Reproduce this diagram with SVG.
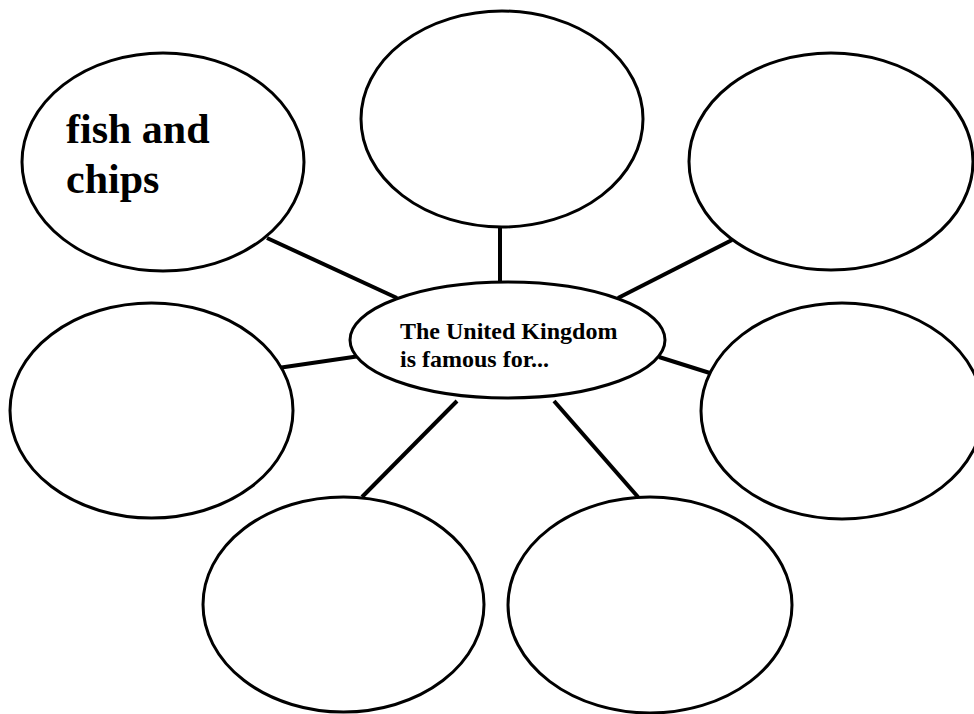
<svg xmlns="http://www.w3.org/2000/svg" width="974" height="714" viewBox="0 0 974 714">
<style>
.bubble{fill:#fff;stroke:#000;stroke-width:3}
.link{stroke:#000;stroke-width:4;stroke-linecap:butt}
.lbl{font-family:"Liberation Serif","Times New Roman",serif;font-weight:bold;fill:#000}
</style>
<rect width="974" height="714" fill="#fff"/>
<g id="connectors">
<line class="link" x1="267" y1="238" x2="397" y2="298"/>
<line class="link" x1="500" y1="227" x2="500" y2="281"/>
<line class="link" x1="732" y1="240" x2="618" y2="298"/>
<line class="link" x1="278" y1="368" x2="360" y2="356"/>
<line class="link" x1="659" y1="357" x2="713" y2="374"/>
<line class="link" x1="457" y1="401" x2="362" y2="497"/>
<line class="link" x1="554" y1="401" x2="638" y2="497"/>
</g>
<g id="node-fish">
<ellipse class="bubble" cx="163" cy="162" rx="141" ry="109"/>
<text class="lbl" font-size="42"><tspan x="66" y="143">fish and</tspan><tspan x="66" y="193">chips</tspan></text>
</g>
<g id="node-top"><ellipse class="bubble" cx="502" cy="119" rx="141" ry="108"/></g>
<g id="node-top-right"><ellipse class="bubble" cx="831" cy="161.5" rx="142" ry="108.5"/></g>
<g id="node-center">
<ellipse class="bubble" cx="507.5" cy="340" rx="157.5" ry="58"/>
<text class="lbl" font-size="24"><tspan x="400" y="339">The United Kingdom</tspan><tspan x="400" y="367">is famous for...</tspan></text>
</g>
<g id="node-mid-left"><ellipse class="bubble" cx="151.5" cy="410.5" rx="141.5" ry="107.5"/></g>
<g id="node-mid-right"><ellipse class="bubble" cx="842" cy="411" rx="141" ry="108"/></g>
<g id="node-bottom-left"><ellipse class="bubble" cx="343.5" cy="604.5" rx="140.5" ry="107.5"/></g>
<g id="node-bottom-right"><ellipse class="bubble" cx="650" cy="605" rx="142" ry="108"/></g>
</svg>
